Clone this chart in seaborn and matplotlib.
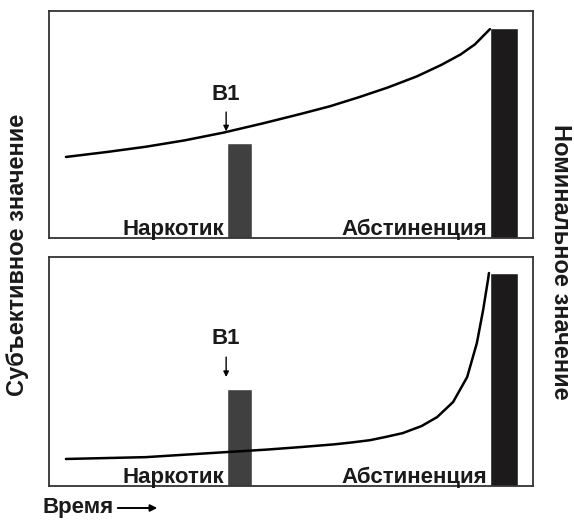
import matplotlib
matplotlib.use("Agg")
import matplotlib.pyplot as plt
import seaborn as sns
import pandas as pd

sns.set_theme(style="white")
plt.rcParams['font.family'] = ['Liberation Sans', 'DejaVu Sans']

# --- data (x: time 0..100, y: value 0..100) ---
top_x = [3.5, 12.0, 20.0, 28.0, 36.0, 44.0, 51.9, 58.0, 64.0, 70.0, 76.0, 81.0, 85.0, 88.0, 91.1]
top_y = [35.7, 37.9, 40.2, 43.0, 46.4, 50.4, 54.6, 58.0, 62.0, 66.3, 71.2, 76.2, 80.8, 85.3, 92.0]

bot_x = [3.5, 20.0, 36.6, 45.0, 52.0, 59.0, 62.5, 66.3, 69.5, 73.1, 77.0, 80.2, 83.5,
         86.4, 88.4, 89.7, 90.7, 90.9]
bot_y = [11.8, 12.6, 14.8, 15.9, 17.0, 18.2, 19.0, 20.0, 21.4, 23.1, 26.2, 30.1, 36.7,
         47.6, 62.4, 76.9, 90.0, 93.0]

bar_names = ["Наркотик", "Абстиненция"]
bar_pos = [39.3, 94.0]
bar_width = [5.2, 5.8]
bar_top_vals = [41.9, 92.5]
bar_bot_vals = [42.4, 93.0]
bar_colors = ["#404040", "#1c1a1a"]

b1_x = 36.6
b1_top = [47.0, 55.5, 58.6]   # tip, tail, label
b1_bot = [47.6, 56.3, 59.8]

fig = plt.figure(figsize=(5.74, 5.22), dpi=100)
ax1 = fig.add_axes([49/574, (522-238)/522, 484/574, 227/522])
ax2 = fig.add_axes([49/574, (522-486)/522, 484/574, 229/522])

TXT = '#1a1a1a'

def draw(ax, xs, ys, bars, b1):
    ax.bar(bar_pos, bars, width=bar_width, color=bar_colors, align='center', zorder=2)
    df = pd.DataFrame({"x": xs, "y": ys})
    sns.lineplot(data=df, x="x", y="y", ax=ax, color="black", linewidth=1.8,
                 sort=False, estimator=None, zorder=3)
    ax.set_xlim(0, 100)
    ax.set_ylim(0, 100)
    ax.set_xticks([]); ax.set_yticks([])
    ax.set_xlabel(""); ax.set_ylabel("")
    for s in ax.spines.values():
        s.set_color("#333333"); s.set_linewidth(1.3); s.set_visible(True)
    ax.text(bar_pos[0] - bar_width[0]/2 - 0.6, 1.5, bar_names[0], ha='right', va='baseline',
            fontsize=16, fontweight='bold', color=TXT)
    ax.text(bar_pos[1] - bar_width[1]/2 - 0.6, 1.5, bar_names[1], ha='right', va='baseline',
            fontsize=16, fontweight='bold', color=TXT)
    ax.text(b1_x, b1[2], "B1", ha='center', va='bottom', fontsize=16,
            fontweight='bold', color=TXT)
    ax.annotate("", xy=(b1_x, b1[0]), xytext=(b1_x, b1[1]),
                arrowprops=dict(arrowstyle='-|>', color='black', lw=1.0,
                                mutation_scale=8, shrinkA=0, shrinkB=0))

draw(ax1, top_x, top_y, bar_top_vals, b1_top)
draw(ax2, bot_x, bot_y, bar_bot_vals, b1_bot)

fig.text(18/574, 1 - 255/522, "Субъективное значение", rotation=90, ha='center', va='center',
         fontsize=17, fontweight='bold', color=TXT)
fig.text(560/574, 1 - 262/522, "Номинальное значение", rotation=-90, ha='center', va='center',
         fontsize=17, fontweight='bold', color=TXT)
fig.text(42/574, 1 - 508/522, "Время", ha='left', va='center',
         fontsize=16, fontweight='bold', color=TXT)
fig.add_artist(matplotlib.patches.FancyArrowPatch(
    (115/574, 1 - 508/522), (160/574, 1 - 508/522), transform=fig.transFigure,
    arrowstyle='-|>', mutation_scale=10, color='black', lw=1.4))

fig.savefig("out.png", dpi=100, facecolor='white')
